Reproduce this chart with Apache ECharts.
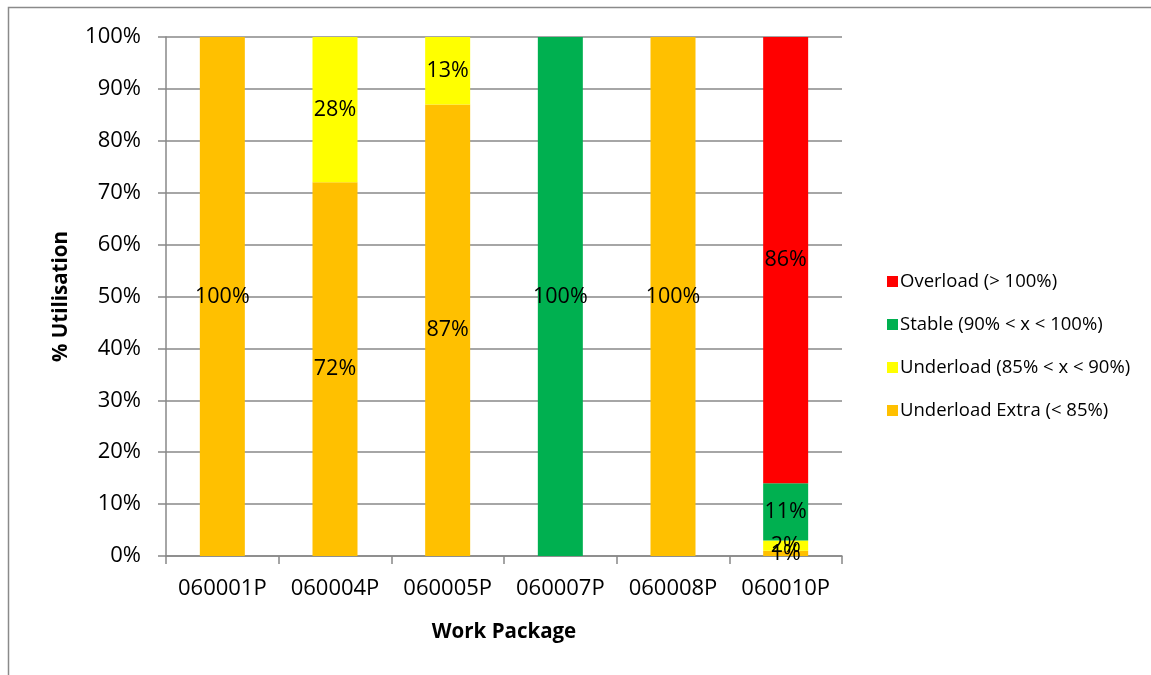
<!DOCTYPE html>
<html>
<head>
<meta charset="utf-8">
<script src="https://cdn.jsdelivr.net/npm/echarts@6/dist/echarts.min.js"></script>
<style>
  html, body { margin: 0; padding: 0; background: #fff; }
  #chart { width: 1151px; height: 675px; }
</style>
</head>
<body>
<div id="chart"></div>
<script>
// Work packages along the x axis
const packages = ['060001P', '060004P', '060005P', '060007P', '060008P', '060010P'];

// Share of each package's utilisation per load band (percent)
const underloadExtra = [100, 72, 87, null, 100, 1];
const underload      = [null, 28, 13, null, null, 2];
const stable         = [null, null, null, 100, null, 11];
const overload       = [null, null, null, null, null, 86];

const bandNames = [
  'Underload Extra (< 85%)',
  'Underload (85% < x < 90%)',
  'Stable (90% < x < 100%)',
  'Overload (> 100%)'
];
const bandColors = ['#FFC000', '#FFFF00', '#00B050', '#FF0000'];
const bandValues = [underloadExtra, underload, stable, overload];

const FONT = '"Open Sans", "Noto Sans", sans-serif';

const chart = echarts.init(document.getElementById('chart'));

const series = bandNames.map((name, i) => ({
  name: name,
  type: 'bar',
  stack: 'util',
  barWidth: 45,
  data: bandValues[i],
  itemStyle: { color: bandColors[i] },
  label: {
    show: true,
    position: 'inside',
    offset: [0, 3],
    color: '#000',
    fontFamily: FONT,
    fontSize: 21.5,
    formatter: p => (p.value == null ? '' : p.value + '%')
  },
  labelLayout: { hideOverlap: false },
  emphasis: { disabled: true }
}));

chart.setOption({
  animation: false,
  backgroundColor: '#fff',
  graphic: [{
    type: 'rect',
    shape: { x: 8.5, y: 7.5, width: 1300, height: 800 },
    style: { fill: 'none', stroke: '#8a8a8a', lineWidth: 1.5 },
    silent: true,
    z: -10
  }],
  grid: { left: 166, right: 309, top: 37, bottom: 119 },
  legend: {
    orient: 'vertical',
    left: 882,
    top: 267,
    itemWidth: 11,
    itemHeight: 11,
    itemGap: 24,
    icon: 'rect',
    data: ['Overload (> 100%)', 'Stable (90% < x < 100%)', 'Underload (85% < x < 90%)', 'Underload Extra (< 85%)'],
    textStyle: { fontFamily: FONT, fontSize: 18.5, color: '#000', padding: [0, 0, 0, -3] }
  },
  xAxis: {
    type: 'category',
    data: packages,
    name: 'Work Package',
    nameLocation: 'middle',
    nameGap: 66,
    nameTextStyle: { fontFamily: FONT, fontSize: 20.5, fontWeight: 'bold', color: '#000' },
    axisLine: { lineStyle: { color: '#888', width: 1.5 } },
    axisTick: { show: true, length: 8, lineStyle: { color: '#888', width: 1.5 } },
    axisLabel: { interval: 0, hideOverlap: false, fontFamily: FONT, fontSize: 22, color: '#000', margin: 22 }
  },
  yAxis: {
    type: 'value',
    min: 0,
    max: 100,
    interval: 10,
    name: '% Utilisation',
    nameLocation: 'middle',
    nameGap: 94,
    nameTextStyle: { fontFamily: FONT, fontSize: 20.5, fontWeight: 'bold', color: '#000' },
    axisLine: { show: true, lineStyle: { color: '#888', width: 1.5 } },
    axisTick: { show: true, length: 8, lineStyle: { color: '#888', width: 1.5 } },
    axisLabel: { fontFamily: FONT, fontSize: 22, color: '#000', margin: 25, formatter: '{value}%' },
    splitLine: { lineStyle: { color: '#888', width: 1.5 } }
  },
  series: series
});
</script>
</body>
</html>
